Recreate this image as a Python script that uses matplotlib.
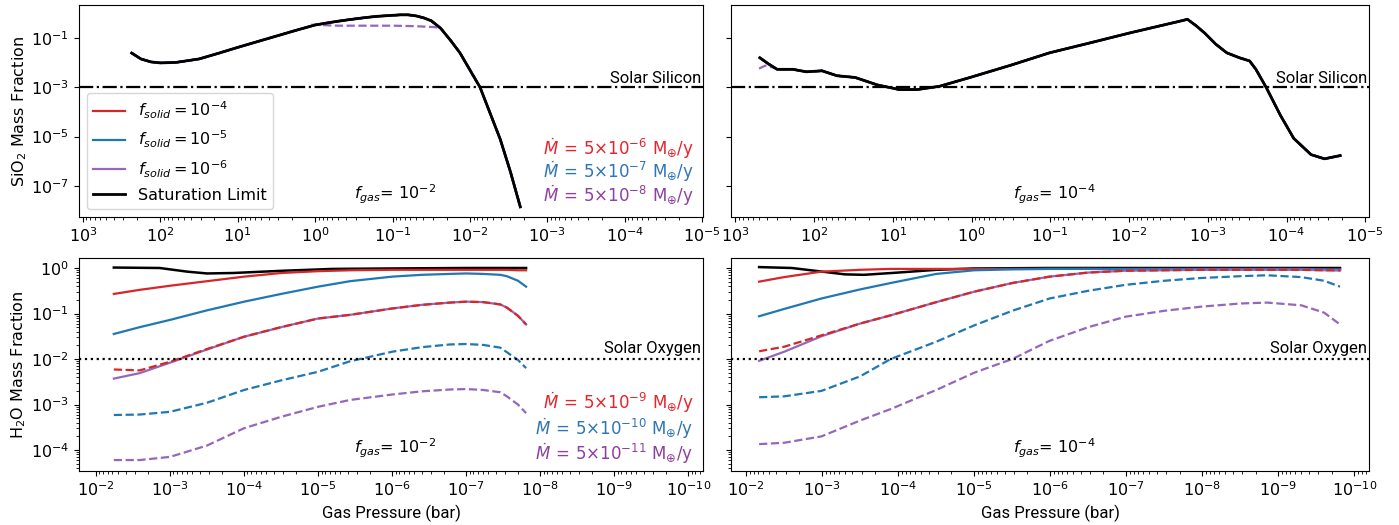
import numpy as np
import matplotlib
matplotlib.use('Agg')
import matplotlib.pyplot as plt
from matplotlib.ticker import LogLocator, NullLocator, NullFormatter, FixedLocator
import matplotlib.transforms as mtransforms

# all values as log10 (pressure in bar, mass fraction)

# --- SiO2, f_gas = 1e-2 (top left) ---
sio2_a_p = [2.37, 2.25, 2.12, 2.0, 1.8, 1.5, 1.25, 1.0, 0.75, 0.5, 0.25, 0.0, -0.25, -0.45,
            -0.65, -0.8, -1.0, -1.1, -1.2, -1.3, -1.4, -1.5, -1.62, -1.75, -1.87, -2.0,
            -2.13, -2.26, -2.39, -2.52, -2.65]
sio2_a_sat = [-1.61, -1.85, -1.97, -2.01, -1.99, -1.85, -1.62, -1.38, -1.15, -0.92, -0.69,
              -0.47, -0.34, -0.25, -0.17, -0.12, -0.08, -0.06, -0.06, -0.1, -0.18, -0.3,
              -0.6, -1.1, -1.6, -2.3, -3.0, -4.05, -5.1, -6.4, -7.85]
sio2_a_dash_p = [0.05, -0.3, -0.7, -1.0, -1.3, -1.55, -1.62]
sio2_a_dash = [-0.46, -0.5, -0.5, -0.5, -0.52, -0.56, -0.6]

# --- SiO2, f_gas = 1e-4 (top right) ---
sio2_b_p = [2.69, 2.58, 2.47, 2.27, 2.1, 1.9, 1.71, 1.48, 1.2, 0.92, 0.69, 0.41, 0.02,
            -0.5, -0.99, -1.5, -2.0, -2.4, -2.68, -2.74, -2.85, -2.96, -3.1, -3.24,
            -3.4, -3.53, -3.61, -3.74, -3.92, -4.09, -4.31, -4.48, -4.68]
sio2_b_sat = [-1.8, -2.05, -2.27, -2.27, -2.37, -2.33, -2.53, -2.6, -2.9, -3.09, -3.09,
              -2.96, -2.6, -2.1, -1.6, -1.2, -0.8, -0.5, -0.29, -0.24, -0.5, -0.8,
              -1.25, -1.6, -1.8, -1.93, -2.27, -3.0, -4.13, -5.07, -5.73, -5.9, -5.77]
sio2_b_dash_p = [2.70, 2.62, 2.52]
sio2_b_dash = [-2.24, -2.12, -2.2]

# --- H2O, f_gas = 1e-2 (bottom left) ---
h2o_a_sat_p = [-2.24, -2.86, -3.23, -3.5, -3.85, -4.53, -5.2, -6.0, -7.0, -7.81]
h2o_a_sat = [0.01, 0.0, -0.08, -0.12, -0.11, -0.06, -0.02, -0.01, 0.0, 0.0]

h2o_a_p = [-2.24, -2.59, -3.0, -3.5, -4.0, -4.5, -5.0, -5.43, -6.0, -6.4, -6.78,
           -7.0, -7.23, -7.46, -7.55, -7.7, -7.81]
h2o_a_red = [-0.57, -0.48, -0.39, -0.29, -0.19, -0.11, -0.07, -0.05, -0.04, -0.04,
             -0.04, -0.04, -0.04, -0.04, -0.04, -0.05, -0.05]
h2o_a_blue = [-1.45, -1.3, -1.14, -0.93, -0.74, -0.57, -0.41, -0.29, -0.19, -0.15,
              -0.13, -0.12, -0.13, -0.15, -0.18, -0.28, -0.41]
h2o_a_red_d = [-2.23, -2.25, -2.06, -1.78, -1.51, -1.3, -1.11, -1.03, -0.89, -0.81,
               -0.76, -0.74, -0.75, -0.8, -0.87, -1.05, -1.24]
h2o_a_purp = [-2.43, -2.31, -2.08, -1.79, -1.51, -1.3, -1.11, -1.03, -0.89, -0.81,
              -0.76, -0.74, -0.75, -0.8, -0.87, -1.05, -1.24]
h2o_a_blue_d = [-3.23, -3.22, -3.16, -2.96, -2.68, -2.47, -2.28, -2.05, -1.84, -1.74,
                -1.68, -1.67, -1.69, -1.75, -1.85, -2.02, -2.2]
h2o_a_purp_d = [-4.22, -4.22, -4.15, -3.9, -3.52, -3.27, -3.05, -2.9, -2.78, -2.71,
                -2.67, -2.66, -2.68, -2.73, -2.82, -3.0, -3.19]

# --- H2O, f_gas = 1e-4 (bottom right) ---
h2o_b_sat_p = [-2.17, -2.6, -3.0, -3.3, -3.55, -4.0, -4.5, -5.0, -6.0, -9.81]
h2o_b_sat = [0.02, 0.0, -0.08, -0.14, -0.15, -0.1, -0.04, -0.01, 0.0, 0.0]

h2o_b_p = [-2.17, -2.5, -2.99, -3.5, -3.9, -4.5, -5.0, -5.5, -5.99, -6.5, -6.99,
           -7.5, -7.98, -8.5, -8.85, -9.3, -9.6, -9.81]
h2o_b_red = [-0.3, -0.2, -0.08, -0.04, -0.02, -0.02, -0.02, -0.02, -0.02, -0.02,
             -0.03, -0.03, -0.03, -0.03, -0.03, -0.04, -0.04, -0.05]
h2o_b_blue = [-1.06, -0.9, -0.67, -0.47, -0.33, -0.13, -0.05, -0.03, -0.02, -0.02,
              -0.02, -0.02, -0.02, -0.02, -0.02, -0.02, -0.03, -0.03]
h2o_b_red_d = [-1.83, -1.73, -1.48, -1.22, -1.04, -0.75, -0.52, -0.33, -0.19, -0.1,
               -0.06, -0.05, -0.04, -0.04, -0.04, -0.04, -0.05, -0.05]
h2o_b_purp = [-2.04, -1.84, -1.5, -1.22, -1.04, -0.75, -0.52, -0.33, -0.19, -0.1,
              -0.06, -0.05, -0.04, -0.04, -0.04, -0.04, -0.05, -0.05]
h2o_b_blue_d = [-2.84, -2.82, -2.7, -2.38, -2.0, -1.62, -1.26, -0.94, -0.67, -0.5,
                -0.37, -0.28, -0.22, -0.18, -0.16, -0.2, -0.28, -0.41]
h2o_b_purp_d = [-3.87, -3.84, -3.7, -3.35, -3.1, -2.68, -2.3, -2.0, -1.6, -1.3,
                -1.07, -0.94, -0.85, -0.78, -0.76, -0.82, -0.98, -1.24]

solar_si = 1e-3
solar_o = 1e-2

top_xticks = [1e3, 1e2, 1e1, 1e0, 1e-1, 1e-2, 1e-3, 1e-4, 1e-5]
bot_xticks = [1e-2, 1e-3, 1e-4, 1e-5, 1e-6, 1e-7, 1e-8, 1e-9, 1e-10]

RED = '#d62728'
BLUE = '#1f77b4'
PURP = '#9467bd'
T_RED = '#e8232a'
T_BLUE = '#2e75b6'
T_PURP = '#8e3fa0'


def L(a):
    return 10 ** np.asarray(a, dtype=float)


fig = plt.figure(figsize=(13.99, 5.25), dpi=100)
ax_tl = fig.add_axes([0.0565, 0.5867, 0.446, 0.4038])
ax_tr = fig.add_axes([0.5225, 0.5867, 0.456, 0.4038])
ax_bl = fig.add_axes([0.0565, 0.1029, 0.446, 0.4057])
ax_br = fig.add_axes([0.5225, 0.1029, 0.456, 0.4057])

lw = 1.6
# top panels: colored curves hidden under the saturation limit
for ax, p, s, dp, d in [(ax_tl, sio2_a_p, sio2_a_sat, sio2_a_dash_p, sio2_a_dash),
                        (ax_tr, sio2_b_p, sio2_b_sat, sio2_b_dash_p, sio2_b_dash)]:
    ax.plot(L(p), L(s), color=RED, lw=lw, label=r'$f_{solid} = 10^{-4}$')
    ax.plot(L(p), L(s), color=BLUE, lw=lw, label=r'$f_{solid} = 10^{-5}$')
    ax.plot(L(p), L(s), color=PURP, lw=lw, label=r'$f_{solid} = 10^{-6}$')
    ax.plot(L(p), L(s), color=RED, lw=lw, ls='--')
    ax.plot(L(p), L(s), color=BLUE, lw=lw, ls='--')
    ax.plot(L(dp), L(d), color=PURP, lw=lw, ls='--')
    ax.plot(L(p), L(s), color='black', lw=2.0, label='Saturation Limit')
    ax.axhline(solar_si, color='black', ls='-.', lw=1.6)
    ax.set_xscale('log')
    ax.set_yscale('log')
    ax.set_ylim(10 ** -8.26, 10 ** 0.34)
    ax.set_yticks([1e-1, 1e-3, 1e-5, 1e-7])
    ax.yaxis.set_minor_locator(NullLocator())
    ax.xaxis.set_major_locator(FixedLocator(top_xticks))
    ax.text(0.997, solar_si * 1.15, 'Solar Silicon', fontsize=12, family='Roboto',
            ha='right', va='bottom',
            transform=mtransforms.blended_transform_factory(ax.transAxes, ax.transData))

ax_tl.set_xlim(10 ** 3.05, 10 ** -5.01)
ax_tr.set_xlim(10 ** 3.056, 10 ** -5.045)

# bottom panels
for ax, sp, s, p, r, b, rd, pu, bd, pd in [
        (ax_bl, h2o_a_sat_p, h2o_a_sat, h2o_a_p, h2o_a_red, h2o_a_blue, h2o_a_red_d,
         h2o_a_purp, h2o_a_blue_d, h2o_a_purp_d),
        (ax_br, h2o_b_sat_p, h2o_b_sat, h2o_b_p, h2o_b_red, h2o_b_blue, h2o_b_red_d,
         h2o_b_purp, h2o_b_blue_d, h2o_b_purp_d)]:
    ax.plot(L(sp), L(s), color='black', lw=1.8)
    ax.plot(L(p), L(r), color=RED, lw=lw)
    ax.plot(L(p), L(b), color=BLUE, lw=lw)
    ax.plot(L(p), L(pu), color=PURP, lw=lw)
    ax.plot(L(p), L(rd), color=RED, lw=lw, ls='--')
    ax.plot(L(p), L(bd), color=BLUE, lw=lw, ls='--')
    ax.plot(L(p), L(pd), color=PURP, lw=lw, ls='--')
    ax.axhline(solar_o, color='black', ls=':', lw=1.6)
    ax.set_xscale('log')
    ax.set_yscale('log')
    ax.set_ylim(10 ** -4.46, 10 ** 0.22)
    ax.set_yticks([1e0, 1e-1, 1e-2, 1e-3, 1e-4])
    ax.yaxis.set_minor_locator(LogLocator(base=10, subs=np.arange(2, 10), numticks=20))
    ax.yaxis.set_minor_formatter(NullFormatter())
    ax.xaxis.set_major_locator(FixedLocator(bot_xticks))
    ax.text(0.997, solar_o * 1.15, 'Solar Oxygen', fontsize=12, family='Roboto',
            ha='right', va='bottom',
            transform=mtransforms.blended_transform_factory(ax.transAxes, ax.transData))
    ax.set_xlabel('Gas Pressure (bar)', fontsize=12, family='Roboto', labelpad=4)

ax_bl.set_xlim(10 ** -1.77, 10 ** -10.2)
ax_br.set_xlim(10 ** -1.80, 10 ** -10.19)

for ax in [ax_tl, ax_tr, ax_bl, ax_br]:
    ax.xaxis.set_minor_locator(LogLocator(base=10, subs=np.arange(2, 10), numticks=20))
    ax.xaxis.set_minor_formatter(NullFormatter())
    ax.tick_params(labelsize=11.5)

ax_tr.set_yticklabels([])
ax_br.set_yticklabels([])

ax_tl.set_ylabel(r'SiO$_2$ Mass Fraction', fontsize=11.5, labelpad=2)
ax_bl.set_ylabel(r'H$_2$O Mass Fraction', fontsize=11.5, labelpad=2)

ax_tl.legend(loc='lower left', fontsize=11.5, handlelength=2.0, borderaxespad=0.5)

# f_gas labels
for ax, txt in [(ax_tl, r'$f_{gas}$= 10$^{-2}$'), (ax_tr, r'$f_{gas}$= 10$^{-4}$'),
                (ax_bl, r'$f_{gas}$= 10$^{-2}$'), (ax_br, r'$f_{gas}$= 10$^{-4}$')]:
    ax.text(0.507, 0.105, txt, fontsize=11.5, transform=ax.transAxes, ha='center', va='center')

# accretion rate labels
mdot_top = ['-6', '-7', '-8']
mdot_bot = ['-9', '-10', '-11']
for ax, exps, y0, dy in [(ax_tl, mdot_top, 0.33, 0.113), (ax_bl, mdot_bot, 0.325, 0.12)]:
    for k, (e, c) in enumerate(zip(exps, [T_RED, T_BLUE, T_PURP])):
        ax.text(0.985, y0 - k * dy,
                r'$\mathit{Ṁ}\,=\,5{\times}10^{' + e + r'}\ \mathrm{M}_{\oplus}/\mathrm{y}$',
                fontsize=12, color=c, transform=ax.transAxes, ha='right', va='center')

fig.savefig('out.png', dpi=100)
